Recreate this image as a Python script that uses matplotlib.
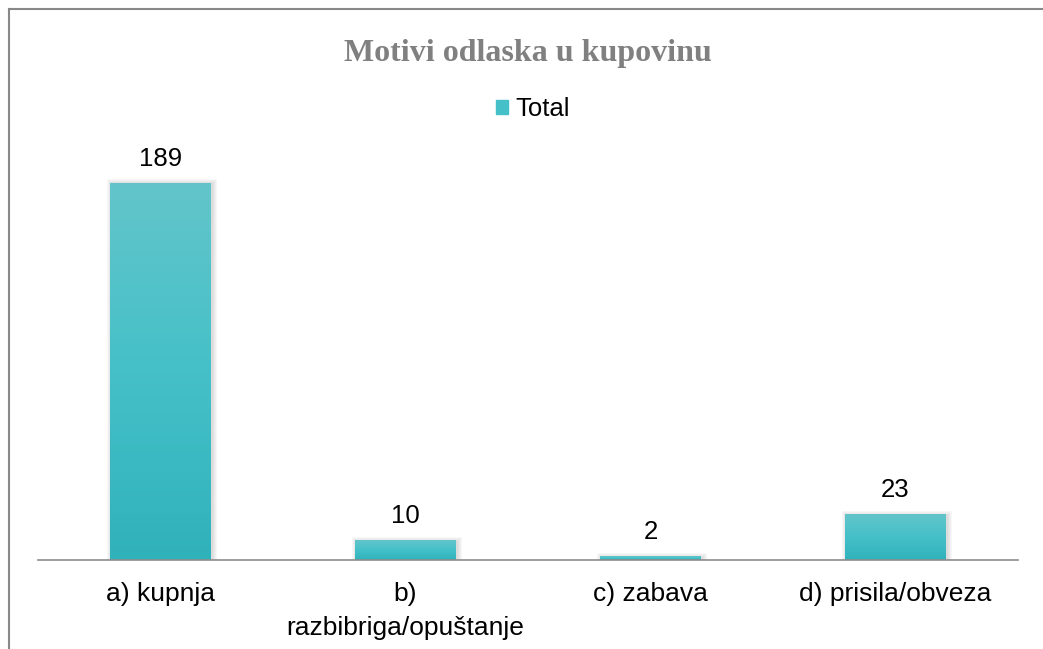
import numpy as np
import matplotlib
matplotlib.use("Agg")
import matplotlib.pyplot as plt
from matplotlib.lines import Line2D
from matplotlib.patches import Patch, Rectangle

categories = ["a) kupnja", "b)\nrazbibriga/opuštanje", "c) zabava", "d) prisila/obveza"]
values = [189, 10, 2, 23]
series_name = "Total"

W, H = 1043, 649
fig = plt.figure(figsize=(W / 100, H / 100), dpi=100)

# axes placed in pixel coordinates: x 38..1018, y 161..560
ax = fig.add_axes([38 / W, (H - 560) / H, 980 / W, 399 / H])

x = np.arange(len(categories))
bars = ax.bar(x, values, width=0.41, color="#45BFC7", zorder=3)

# soft shadow around each bar
px_x = 1 / 245.0
px_y = 200 / 399.0
for b in bars:
    x0, w, h = b.get_x(), b.get_width(), b.get_height()
    for k in range(1, 6):
        ax.add_patch(Rectangle((x0 - k * px_x + 1.5 * px_x, 0), w + 2 * k * px_x,
                               h + k * px_y - 1.5 * px_y, color="#707070",
                               alpha=0.05, lw=0, zorder=2))

# vertical gradient on each bar
grad = np.linspace(0, 1, 256).reshape(-1, 1)
cmap = matplotlib.colors.LinearSegmentedColormap.from_list("g", ["#30B2BB", "#45C0C8", "#63C5CB"])
for b in bars:
    x0, w, h = b.get_x(), b.get_width(), b.get_height()
    im = ax.imshow(grad, cmap=cmap, aspect="auto", origin="lower",
                   extent=[x0, x0 + w, 0, h], zorder=4)
    im.set_clip_path(b)

for xi, v in zip(x, values):
    ax.text(xi, v + 6, str(v), ha="center", va="bottom", fontsize=18.5,
            family="Liberation Sans", color="black")

ax.set_xlim(-0.5, len(categories) - 0.5)
ax.set_ylim(0, 200)
ax.set_yticks([])
ax.set_xticks(x)
ax.set_xticklabels(categories, fontsize=19, family="Liberation Sans", linespacing=1.5)
ax.tick_params(axis="x", length=0, pad=16)
for s in ["top", "right", "left"]:
    ax.spines[s].set_visible(False)
ax.spines["bottom"].set_color("#8C8C8C")
ax.spines["bottom"].set_linewidth(1.2)
ax.spines["bottom"].set_zorder(5)

fig.text(528 / W, 1 - 54 / H, "Motivi odlaska u kupovinu", ha="center", va="center",
         fontsize=23, fontweight="bold", family="Liberation Serif", color="#808080")

fig.legend(handles=[Patch(color="#45C0C8", label=series_name)], loc="center",
           bbox_to_anchor=(533 / W, 1 - 109 / H), frameon=False,
           prop={"family": "Liberation Sans", "size": 18.5},
           handlelength=0.45, handleheight=0.45, handletextpad=0.3)

# chart frame (top and left edges)
fig.add_artist(Line2D([9 / W, 9 / W], [0, 1 - 9 / H], color="#888888", lw=1.5))
fig.add_artist(Line2D([9 / W, 1], [1 - 9 / H, 1 - 9 / H], color="#888888", lw=1.5))

fig.savefig("out.png", dpi=100)
